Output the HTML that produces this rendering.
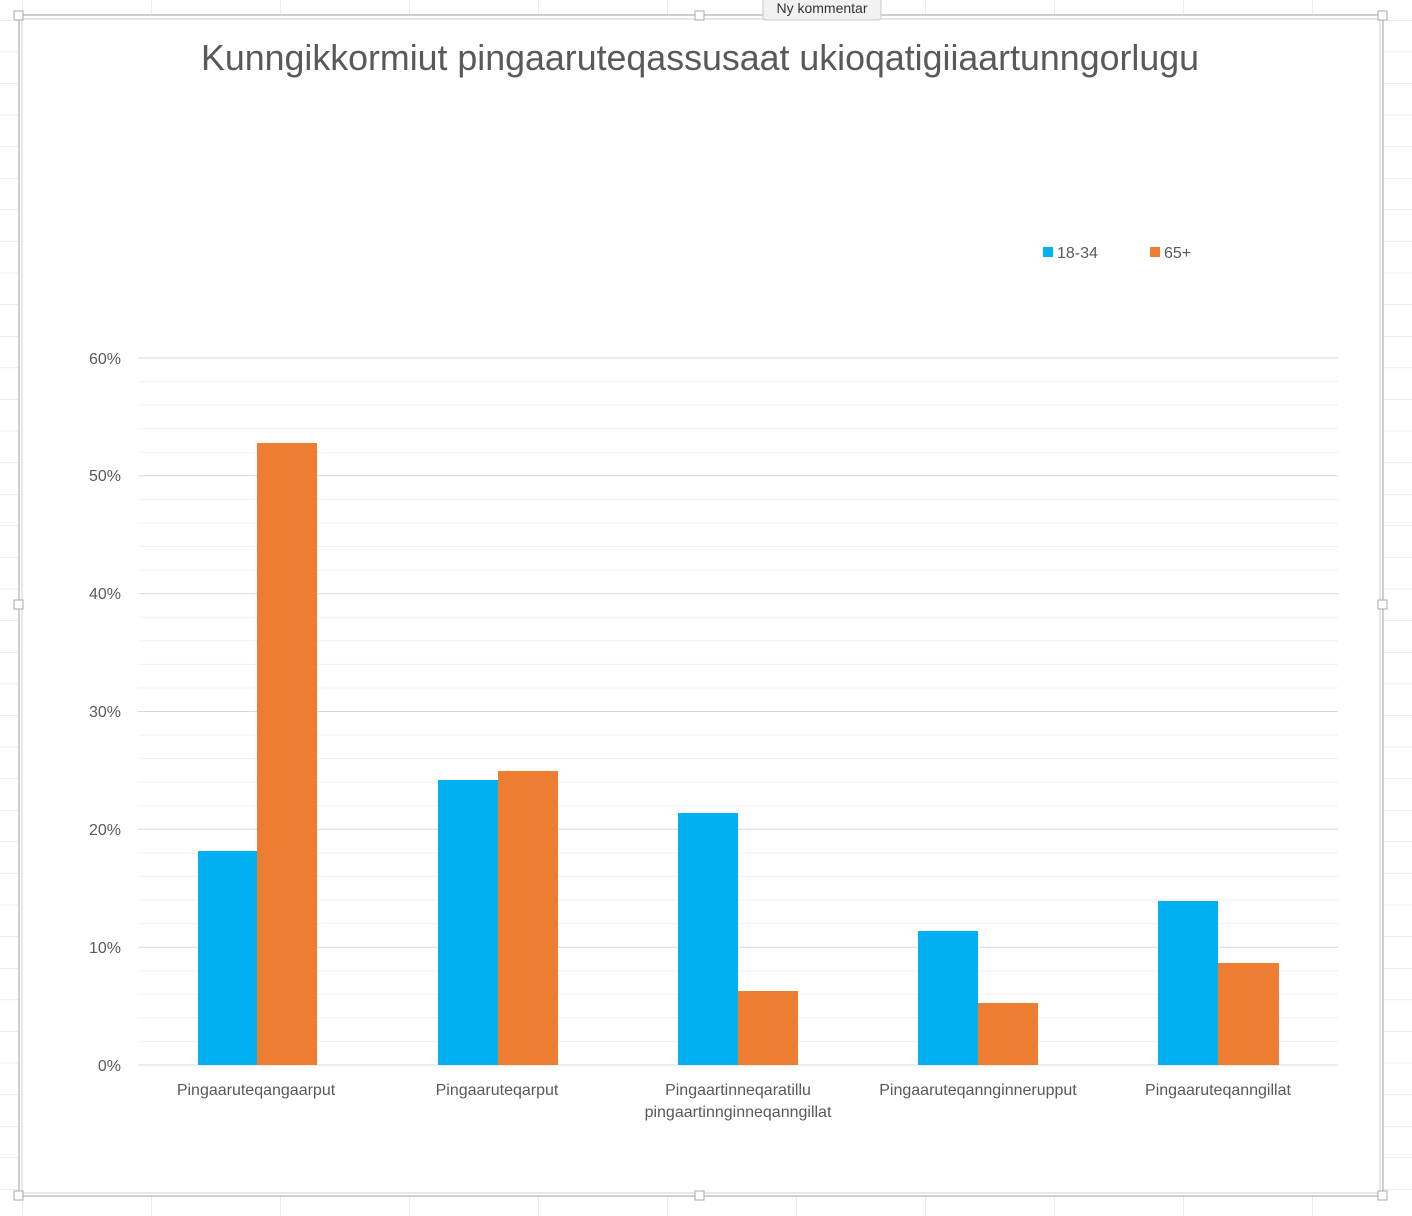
<!DOCTYPE html>
<html><head><meta charset="utf-8"><style>html,body{margin:0;padding:0;background:#fff}svg{display:block}</style></head>
<body>
<svg width="1412" height="1216" viewBox="0 0 1412 1216" xmlns="http://www.w3.org/2000/svg" font-family="Liberation Sans, sans-serif">
<defs>
<pattern id="cells" x="22" y="20" width="129" height="31.6" patternUnits="userSpaceOnUse">
<path d="M0 0V31.6M0 0H129" stroke="#d9d9d9" stroke-width="1" fill="none"/>
</pattern>
</defs>
<rect width="1412" height="1216" fill="url(#cells)"/>
<rect x="19" y="15" width="1364" height="1181" fill="#fff" stroke="#bfbfbf" stroke-width="1.5"/>
<rect x="22" y="19" width="1358" height="1174" fill="none" stroke="#d0d0d0" stroke-width="1"/>
<g fill="#fff" stroke="#aaa"><rect x="14" y="11" width="9" height="9"/><rect x="695" y="11" width="9" height="9"/><rect x="1378" y="11" width="9" height="9"/><rect x="14" y="600" width="9" height="9"/><rect x="1378" y="600" width="9" height="9"/><rect x="14" y="1191" width="9" height="9"/><rect x="695" y="1191" width="9" height="9"/><rect x="1378" y="1191" width="9" height="9"/></g>
<rect x="763" y="-4" width="118" height="24" rx="3" fill="#f2f2f2" stroke="#c8c8c8"/>
<text x="822" y="13" font-size="14" fill="#333" text-anchor="middle">Ny kommentar</text>
<text x="201" y="70" font-size="36" fill="#595959" textLength="998" lengthAdjust="spacingAndGlyphs">Kunngikkormiut pingaaruteqassusaat ukioqatigiiaartunngorlugu</text>
<rect x="1043" y="247" width="10" height="10" fill="#00b0f0"/><text x="1057" y="258" font-size="16" fill="#595959">18-34</text>
<rect x="1150" y="247" width="10" height="10" fill="#ed7d31"/><text x="1164" y="258" font-size="16" fill="#595959">65+</text>
<g stroke="#f0f0f0" stroke-width="1">
<path d="M138 381.6H1338M138 405.1H1338M138 428.7H1338M138 452.3H1338M138 499.4H1338M138 523H1338M138 546.5H1338M138 570.1H1338M138 617.2H1338M138 640.8H1338M138 664.4H1338M138 687.9H1338M138 735H1338M138 758.6H1338M138 782.2H1338M138 805.8H1338M138 852.9H1338M138 876.5H1338M138 900H1338M138 923.6H1338M138 970.7H1338M138 994.3H1338M138 1017.9H1338M138 1041.4H1338"/>
</g>
<g stroke="#d9d9d9" stroke-width="1">
<path d="M138 358H1338M138 475.8H1338M138 593.7H1338M138 711.5H1338M138 829.3H1338M138 947.2H1338M138 1065H1338"/>
</g>
<g font-size="16" fill="#595959" text-anchor="end">
<text x="121" y="364">60%</text><text x="121" y="481">50%</text><text x="121" y="599">40%</text><text x="121" y="717">30%</text><text x="121" y="835">20%</text><text x="121" y="953">10%</text><text x="121" y="1071">0%</text>
</g>
<g fill="#00b0f0">
<rect x="198" y="851" width="59" height="214"/><rect x="438" y="780" width="60" height="285"/><rect x="678" y="813" width="60" height="252"/><rect x="918" y="931" width="60" height="134"/><rect x="1158" y="901" width="60" height="164"/>
</g>
<g fill="#ed7d31">
<rect x="257" y="443" width="60" height="622"/><rect x="498" y="771" width="60" height="294"/><rect x="738" y="991" width="60" height="74"/><rect x="978" y="1003" width="60" height="62"/><rect x="1218" y="963" width="61" height="102"/>
</g>
<g font-size="16" fill="#595959" text-anchor="middle">
<text x="256" y="1095">Pingaaruteqangaarput</text>
<text x="497" y="1095">Pingaaruteqarput</text>
<text x="738" y="1095">Pingaartinneqaratillu</text>
<text x="738" y="1117">pingaartinnginneqanngillat</text>
<text x="978" y="1095">Pingaaruteqannginnerupput</text>
<text x="1218" y="1095">Pingaaruteqanngillat</text>
</g>
</svg>
</body></html>
